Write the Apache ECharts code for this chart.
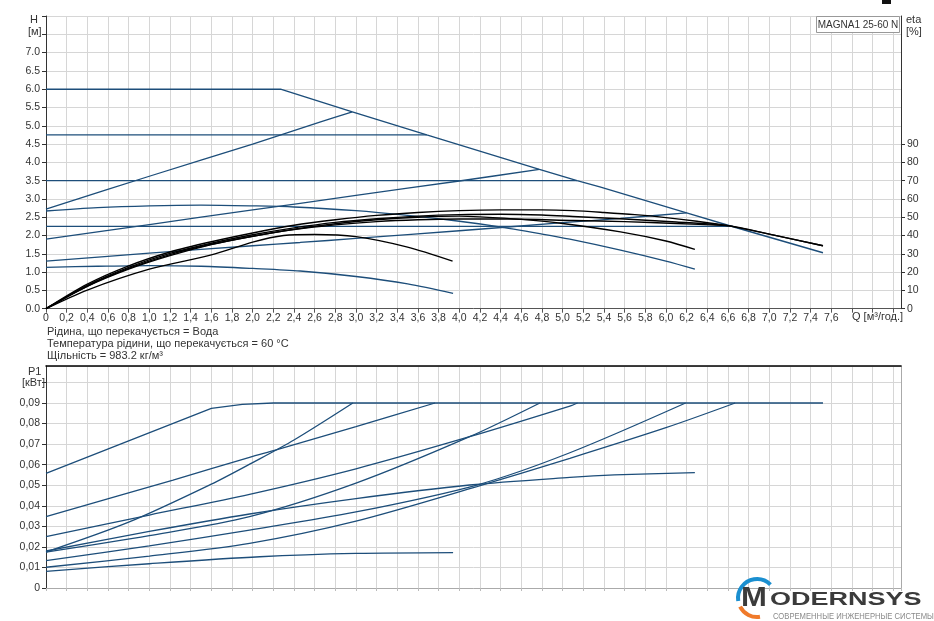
<!DOCTYPE html>
<html><head><meta charset="utf-8">
<script src="https://cdn.jsdelivr.net/npm/echarts@6/dist/echarts.min.js"></script>
<style>html,body{margin:0;padding:0;background:#fff}#c{width:934px;height:621px}</style>
</head><body><div id="c"></div>
<script>
// ---- Head curves H [m] vs Q [m3/h] ----
const H_MAX = [[0,6.0],[2.27,6.0],[2.965,5.38],[3.685,4.75],[4.775,3.81],[5.14,3.5],[5.36,3.33],[6.2,2.62],[6.65,2.24],[7.52,1.53]];
const H_PP_HIGH = [[0,2.72],[1.0,3.62],[2.0,4.5],[2.65,5.1],[2.965,5.38]];
const H_PP_MID = [[0,1.9],[1.0,2.3],[2.0,2.7],[2.46,2.88],[3.0,3.1],[4.0,3.49],[4.775,3.81]];
const H_PP_LOW = [[0,1.3],[1.0,1.52],[2.0,1.72],[2.46,1.81],[3.0,1.92],[4.0,2.13],[5.0,2.35],[5.56,2.47],[6.2,2.62]];
const H_CP_1 = [[0,4.75],[3.685,4.75]];
const H_CP_2 = [[0,3.5],[5.14,3.5]];
const H_CP_3 = [[0,2.25],[6.65,2.25]];
const H_SPEED_II = [[0,2.67],[0.5,2.76],[1.0,2.81],[1.5,2.83],[2.0,2.81],[2.4,2.78],[3.0,2.68],[3.5,2.55],[4.0,2.39],[4.36,2.25],[4.8,2.04],[5.07,1.9],[5.56,1.6],[6.0,1.3],[6.28,1.08]];
const H_SPEED_I = [[0,1.13],[0.5,1.16],[1.0,1.18],[1.5,1.16],[2.0,1.1],[2.46,1.03],[3.0,0.88],[3.5,0.68],[3.94,0.42]];
// ---- Efficiency curves eta [%] ----
const ETA_1 = [[0,0],[0.4,13.4],[0.8,23.4],[1.2,31],[1.6,36.6],[2.0,41.4],[2.4,45.6],[2.8,48.6],[3.2,51],[3.6,52.6],[4.0,53.6],[4.4,54],[4.8,54],[5.1,53.6],[5.4,52.6],[5.7,51.4],[6.0,49.8],[6.3,47.8],[6.6,45.4],[7.0,40.8],[7.52,34.4]];
const ETA_2 = [[0,0],[0.4,12.8],[0.8,22.6],[1.2,30.2],[1.6,35.8],[2.0,40.4],[2.4,44.2],[2.8,47.2],[3.2,49.2],[3.6,50.6],[4.0,51.4],[4.4,51.6],[4.8,51.2],[5.1,50.4],[5.6,49],[6.1,47.4],[6.6,45.4],[7.0,40.8],[7.52,34.4]];
const ETA_3 = [[0,0],[0.4,12.4],[0.8,22],[1.2,29.6],[1.6,35.2],[2.0,39.6],[2.4,43.2],[2.8,45.8],[3.2,47.6],[3.6,48.6],[4.0,49],[4.5,49],[5.1,48.2],[5.6,47.6],[6.1,46.6],[6.6,45.4]];
const ETA_4 = [[0,0],[0.4,12.2],[0.8,21.6],[1.2,29],[1.6,35],[2.0,39.6],[2.4,43.4],[2.8,46.4],[3.2,48.6],[3.6,50],[4.0,50.6],[4.2,50.2],[4.6,48.8],[5.0,46.6],[5.56,42],[6.0,37],[6.28,32.4]];
const ETA_5 = [[0,0],[0.4,10.2],[1.0,21.6],[1.6,29.4],[2.0,36.4],[2.3,40],[2.6,40.6],[3.0,39.4],[3.49,33.8],[3.935,26]];
const ETA_TICKS = [0,10,20,30,40,50,60,70,80,90];
// ---- Power input P1 [kW] ----
const P_MAX = [[0,0.0558],[1.6,0.0874],[1.9,0.0893],[2.2,0.09],[7.52,0.09]];
const P_PP_HIGH = [[0,0.0175],[0.8,0.032],[1.6,0.0505],[2.0,0.061],[2.4,0.072],[2.97,0.09]];
const P_CP_1 = [[0,0.0347],[1.23,0.0525],[1.97,0.0636],[2.22,0.0671],[3.0,0.0785],[3.765,0.09]];
const P_PP_MID = [[0,0.0175],[1.0,0.0255],[1.97,0.0347],[3.0,0.051],[4.1,0.0736],[4.78,0.09]];
const P_CP_2 = [[0,0.025],[1.0,0.0355],[1.97,0.0456],[3.0,0.058],[4.1,0.0736],[5.07,0.0885],[5.145,0.09]];
const P_SPEED_II = [[0,0.018],[1.0,0.0275],[1.97,0.036],[3.0,0.0435],[4.1,0.0501],[5.07,0.0538],[5.5,0.055],[6.28,0.0561]];
const P_PP_LOW = [[0,0.0133],[1.0,0.0205],[1.97,0.0282],[3.0,0.037],[4.17,0.0501],[5.07,0.0658],[6.19,0.09]];
const P_CP_3 = [[0,0.0101],[1.0,0.0155],[1.97,0.0217],[3.0,0.0325],[4.17,0.0493],[5.07,0.0631],[6.0,0.078],[6.67,0.09]];
const P_SPEED_I = [[0,0.0081],[1.0,0.0118],[2.07,0.0152],[3.0,0.0168],[3.94,0.0172]];

const BLUE = '#1d4e7a';
const FONT = 'Liberation Sans, Arial, sans-serif';
const X_MAX = 8.275;

function ln(data, color, w, xi, yi, smooth){
  return {type:'line', data:data, xAxisIndex:xi, yAxisIndex:yi, showSymbol:false, silent:true,
    smooth:smooth, lineStyle:{color:color, width:w}, z:color===BLUE?2:3};
}
const series = [
  ln(H_MAX,BLUE,1.4,0,0,false), ln(H_PP_HIGH,BLUE,1.3,0,0,0.3), ln(H_PP_MID,BLUE,1.3,0,0,0.3),
  ln(H_PP_LOW,BLUE,1.3,0,0,0.3), ln(H_CP_1,BLUE,1.4,0,0,false), ln(H_CP_2,BLUE,1.4,0,0,false),
  ln(H_CP_3,BLUE,1.4,0,0,false), ln(H_SPEED_II,BLUE,1.3,0,0,0.3), ln(H_SPEED_I,BLUE,1.3,0,0,0.3),
  ln(ETA_1,'#000',1.4,0,1,0.3), ln(ETA_2,'#000',1.4,0,1,0.3), ln(ETA_3,'#000',1.4,0,1,0.3),
  ln(ETA_4,'#000',1.4,0,1,0.3), ln(ETA_5,'#000',1.4,0,1,0.3),
  ln(P_MAX,BLUE,1.3,1,2,false), ln(P_PP_HIGH,BLUE,1.3,1,2,0.3), ln(P_CP_1,BLUE,1.3,1,2,0.3),
  ln(P_PP_MID,BLUE,1.3,1,2,0.3), ln(P_CP_2,BLUE,1.3,1,2,0.3), ln(P_SPEED_II,BLUE,1.3,1,2,0.3),
  ln(P_PP_LOW,BLUE,1.3,1,2,0.3), ln(P_CP_3,BLUE,1.3,1,2,0.3), ln(P_SPEED_I,BLUE,1.3,1,2,0.3)
];
const lbl = {fontFamily:FONT, fontSize:10.5, color:'#333'};
const grid = {lineStyle:{color:'#d6d6d6', width:1}};
const chart = echarts.init(document.getElementById('c'), null, {renderer:'canvas'});
chart.setOption({
  animation:false,
  grid:[{left:46, top:16, width:855, height:292.7},{left:46, top:366, width:855, height:222}],
  xAxis:[
    {type:'value', gridIndex:0, position:'bottom', min:0, max:X_MAX, interval:0.2,
     axisLine:{onZero:false, lineStyle:{color:'#555'}}, axisTick:{show:true, length:4, lineStyle:{color:'#555'}},
     splitLine:grid, axisLabel:Object.assign({margin:4, showMaxLabel:false, formatter:function(v){
       if (v>7.61) return ''; if (v===0) return '0'; return (Math.round(v*10)/10).toFixed(1).replace('.',',');}}, lbl)},
    {type:'value', gridIndex:1, position:'bottom', min:0, max:X_MAX, interval:0.2,
     axisLine:{onZero:false, lineStyle:{color:'#aaa'}}, axisTick:{show:true, length:3, lineStyle:{color:'#bbb'}},
     splitLine:grid, axisLabel:{show:false}},
    {type:'value', gridIndex:1, position:'top', min:0, max:X_MAX,
     axisLine:{onZero:false, lineStyle:{color:'#000', width:1.5}}, axisTick:{show:false}, splitLine:{show:false}, axisLabel:{show:false}}
  ],
  yAxis:[
    {type:'value', gridIndex:0, position:'left', min:0, max:8, interval:0.5,
     axisLine:{show:true, onZero:false, lineStyle:{color:'#333'}}, axisTick:{show:true, length:4, lineStyle:{color:'#333'}},
     splitLine:grid, axisLabel:Object.assign({margin:6, formatter:function(v){return v>7.01?'':v.toFixed(1);}}, lbl)},
    {type:'value', gridIndex:0, position:'right', min:0, max:160, interval:10,
     axisLine:{show:true, onZero:false, lineStyle:{color:'#333'}},
     axisTick:{show:true, length:4, customValues:ETA_TICKS, lineStyle:{color:'#333'}},
     splitLine:{show:false}, axisLabel:Object.assign({margin:6, customValues:ETA_TICKS}, lbl)},
    {type:'value', gridIndex:1, position:'left', min:0, max:0.108, interval:0.01,
     axisLine:{show:true, onZero:false, lineStyle:{color:'#333'}}, axisTick:{show:true, length:4, lineStyle:{color:'#333'}},
     splitLine:grid, axisLabel:Object.assign({margin:6, showMaxLabel:false, formatter:function(v){
       if (v===0) return '0'; if (v>0.0905) return ''; return v.toFixed(2).replace('.',',');}}, lbl)},
    {type:'value', gridIndex:1, position:'right', min:0, max:0.108,
     axisLine:{show:true, onZero:false, lineStyle:{color:'#aaa'}}, axisTick:{show:false}, splitLine:{show:false}, axisLabel:{show:false}}
  ],
  series:series,
  graphic:[
    {type:'text', left:30, top:14, style:{text:'H', font:'11px '+FONT, fill:'#333'}},
    {type:'text', left:28, top:26, style:{text:'[м]', font:'11px '+FONT, fill:'#333'}},
    {type:'text', left:906, top:14, style:{text:'eta', font:'11px '+FONT, fill:'#333'}},
    {type:'text', left:906, top:26, style:{text:'[%]', font:'11px '+FONT, fill:'#333'}},
    {type:'rect', shape:{x:816.5, y:16.5, width:83, height:16}, style:{fill:'#fff', stroke:'#999', lineWidth:1}, z:10},
    {type:'text', x:858, y:25, style:{text:'MAGNA1 25-60 N', fontFamily:FONT, fontSize:10, fill:'#333', align:'center', verticalAlign:'middle'}, z:11},
    {type:'text', x:852, y:317, style:{text:'Q [м³/год.]', font:'11px '+FONT, fill:'#333', verticalAlign:'middle'}},
    {type:'text', left:47, top:326, style:{text:'Рідина, що перекачується = Вода', font:'11px '+FONT, fill:'#333'}},
    {type:'text', left:47, top:338, style:{text:'Температура рідини, що перекачується = 60 °C', font:'11px '+FONT, fill:'#333'}},
    {type:'text', left:47, top:350, style:{text:'Щільність = 983.2 кг/м³', font:'11px '+FONT, fill:'#333'}},
    {type:'text', left:28, top:366, style:{text:'P1', font:'11px '+FONT, fill:'#333'}},
    {type:'text', left:22, top:377, style:{text:'[кВт]', font:'11px '+FONT, fill:'#333'}},
    {type:'rect', shape:{x:882, y:0, width:9, height:4}, style:{fill:'#111'}},
    {type:'arc', shape:{cx:757, cy:598, r:19, startAngle:Math.PI*0.95, endAngle:Math.PI*1.75}, style:{stroke:'#1a8fd0', lineWidth:4, fill:null}, z:20},
    {type:'arc', shape:{cx:757, cy:598, r:19, startAngle:Math.PI*0.45, endAngle:Math.PI*0.85}, style:{stroke:'#f07a2a', lineWidth:4, fill:null}, z:20},
    {type:'text', x:741, y:599, scaleX:1.15, style:{text:'M', font:'bold 27px '+FONT, fill:'#3b3b3b', verticalAlign:'middle'}, z:21},
    {type:'text', x:770, y:600, scaleX:1.42, style:{text:'ODERNSYS', font:'bold 19px '+FONT, fill:'#3b3b3b', verticalAlign:'middle'}, z:21},
    {type:'text', x:773, y:617, scaleX:0.85, style:{text:'СОВРЕМЕННЫЕ ИНЖЕНЕРНЫЕ СИСТЕМЫ', font:'9px '+FONT, fill:'#8a8a8a', verticalAlign:'middle'}, z:21}
  ]
});
</script></body></html>
